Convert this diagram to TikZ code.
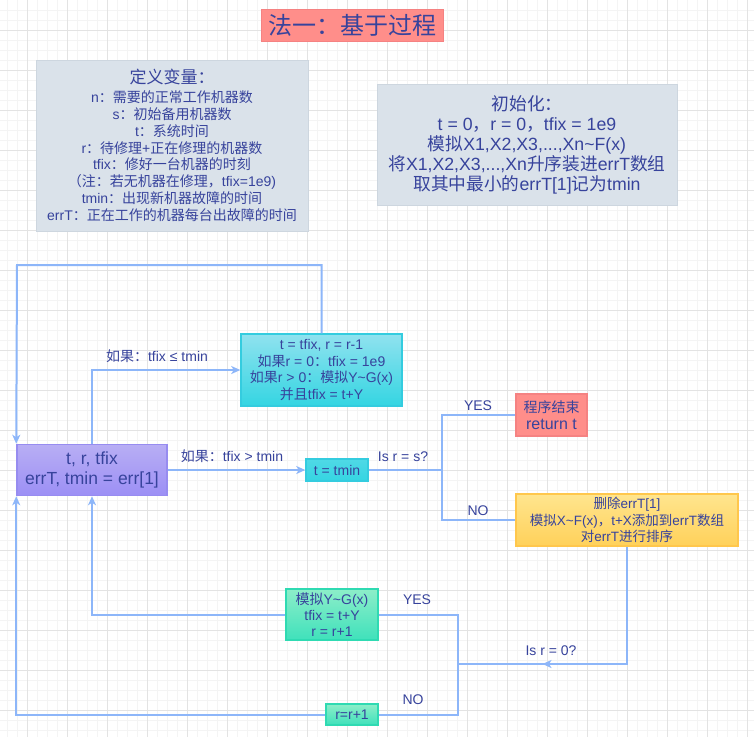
\documentclass[tikz,border=0pt]{standalone}
\usepackage{fontspec}
\setmainfont{Liberation Sans}
\newfontfamily\cjk{Noto Sans CJK SC}
\usetikzlibrary{arrows.meta,calc}

% Switch to the CJK family for Chinese characters and back to Latin afterwards
\XeTeXinterchartokenstate=1
\newXeTeXintercharclass\CJKcls
\newcount\cjkc
\def\cjkrange#1#2{%
  \cjkc=#1
  \loop
    \XeTeXcharclass\cjkc=\CJKcls
    \advance\cjkc by 1
  \ifnum\cjkc<#2 \repeat}
\cjkrange{"3000}{"3040}
\cjkrange{"4E00}{"A000}
\cjkrange{"FF00}{"FFF0}
\XeTeXinterchartoks 0 \CJKcls = {\cjk}
\XeTeXinterchartoks 4095 \CJKcls = {\cjk}
\XeTeXinterchartoks \CJKcls 0 = {\rmfamily}
\XeTeXinterchartoks \CJKcls 4095 = {\rmfamily}

\definecolor{ink}{HTML}{37439C}
\definecolor{edge}{HTML}{8DB6F9}
\definecolor{gridmajor}{HTML}{E3E3E3}
\definecolor{gridminor}{HTML}{F4F4F4}
\definecolor{notefill}{HTML}{DAE2EA}
\definecolor{notebd}{HTML}{CDD6DF}
\definecolor{redfill}{HTML}{FF8E8A}
\definecolor{redbd}{HTML}{F58282}
\definecolor{purptop}{HTML}{B8AEF4}
\definecolor{purpbot}{HTML}{9C8FF5}
\definecolor{purpbd}{HTML}{978CF0}
\definecolor{cyantop}{HTML}{90E2EF}
\definecolor{cyanbot}{HTML}{34D5E2}
\definecolor{cyanbd}{HTML}{34CCDF}
\definecolor{yeltop}{HTML}{FFE58E}
\definecolor{yelbot}{HTML}{FFD15A}
\definecolor{yelbd}{HTML}{FFC74C}
\definecolor{grntop}{HTML}{8DEEC9}
\definecolor{grnbot}{HTML}{3FE1BB}
\definecolor{grnbd}{HTML}{2FDAB2}

\tikzset{
  box/.style={draw, line width=1.5pt, inner sep=0pt, align=center, text=ink,
    font=\fontsize{14}{16.8}\selectfont},
  note/.style={box, draw=notebd, fill=notefill, line width=1pt},
  redbox/.style={box, draw=redbd, fill=redfill},
  purpbox/.style={box, draw=purpbd, top color=purptop, bottom color=purpbot},
  cyanbox/.style={box, draw=cyanbd, top color=cyantop, bottom color=cyanbot},
  yelbox/.style={box, draw=yelbd, top color=yeltop, bottom color=yelbot},
  grnbox/.style={box, draw=grnbd, top color=grntop, bottom color=grnbot},
  flow/.style={draw=edge, line width=2pt},
  arr/.style={-{Stealth[length=9pt,width=8pt,inset=2.5pt]}},
  lbl/.style={text=ink, inner sep=0pt, font=\fontsize{14}{16.8}\selectfont},
}

\begin{document}
\begin{tikzpicture}[x=1pt,y=-1pt]
\useasboundingbox[fill=white] (0,0) rectangle (754,737);

% background grid
\foreach \x in {7,17,...,747} \draw[gridminor, line width=0.8pt] (\x,0) -- (\x,737);
\foreach \y in {10,20,...,730} \draw[gridminor, line width=0.8pt] (0,\y) -- (754,\y);
\foreach \x in {27,67,...,747} \draw[gridmajor, line width=1pt] (\x,0) -- (\x,737);
\foreach \y in {30,70,...,730} \draw[gridmajor, line width=1pt] (0,\y) -- (754,\y);

% heading and notes
\node[redbox, line width=1pt, minimum width=182pt, minimum height=32pt,
  font=\fontsize{24}{28}\selectfont] (title) at (352,25) {法一：基于过程};

\node[note, minimum width=272pt, minimum height=171pt] (vars) at (172,145.5)
  {{\fontsize{17}{19}\selectfont 定义变量：}\\[2pt]
   n：需要的正常工作机器数\\
   s：初始备用机器数\\
   t：系统时间\\
   r：待修理+正在修理的机器数\\
   tfix：修好一台机器的时刻\\
   （注：若无机器在修理，tfix=1e9)\\
   tmin：出现新机器故障的时间\\
   errT：正在工作的机器每台出故障的时间};

\node[note, minimum width=300pt, minimum height=121pt,
  font=\fontsize{17.7}{20}\selectfont] (init) at (527,144.5)
  {初始化：\\
   t = 0，r = 0，tfix = 1e9\\
   模拟X1,X2,X3,...,Xn\textasciitilde F(x)\\
   将X1,X2,X3,...,Xn升序装进errT数组\\
   取其中最小的errT[1]记为tmin};

% process boxes
\node[purpbox, minimum width=150pt, minimum height=51pt,
  font=\fontsize{17.5}{20}\selectfont] (P) at (92,470)
  {t, r, tfix\\ errT, tmin = err[1]};

\node[cyanbox, minimum width=161pt, minimum height=72pt] (C) at (321.5,370)
  {t = tfix, r = r-1\\
   如果r = 0：tfix = 1e9\\
   如果r > 0：模拟Y\textasciitilde G(x)\\
   并且tfix = t+Y};

\node[cyanbox, top color=cyanbot!70!cyantop, minimum width=62pt, minimum height=22pt] (T) at (337,470) {t = tmin};

\node[redbox, minimum width=71pt, minimum height=42pt] (E) at (551.5,415)
  {程序结束\\[0.5pt]{\fontsize{16}{17}\selectfont return t}};

\node[yelbox, minimum width=222pt, minimum height=52pt,
  font=\fontsize{13.5}{16.3}\selectfont] (Y) at (627,520)
  {删除errT[1]\\
   模拟X\textasciitilde F(x)，t+X添加到errT数组\\
   对errT进行排序};

\node[grnbox, minimum width=92pt, minimum height=51pt,
  font=\fontsize{14}{16}\selectfont] (G) at (332,614.5)
  {模拟Y\textasciitilde G(x)\\ tfix = t+Y\\ r = r+1};

\node[grnbox, minimum width=52pt, minimum height=21pt] (R) at (352,714.5) {r=r+1};

% routing points
\coordinate (loopTL) at (17,265);
\coordinate (split) at (442,470);
\coordinate (merge) at (458,664);

% connectors
\draw[flow, arr] (P.north) |- (C.west);
\draw[flow, arr] (C.north) |- (loopTL) -- (P.north west);
\draw[flow, arr] (P.east) -- (T.west);
\draw[flow] (T.east) -- (split) |- (E.west);
\draw[flow] (T.east) -- (split) |- (Y.west);
\draw[flow] (Y.south) |- (merge);
\draw[flow, arr] (Y.south |- merge) -- ($(Y.south |- merge)!0.5!(merge)$);
\draw[flow] (merge) |- (G.east);
\draw[flow] (merge) |- (R.east);
\draw[flow, arr] (G.west) -| (P.south);
\draw[flow, arr] (R.west) -| (P.south west);

% connector labels
\node[lbl] (l1) at (157,356) {如果：tfix ≤ tmin};
\node[lbl] (l2) at (232,456) {如果：tfix > tmin};
\node[lbl] (l3) at (403,457) {Is r = s?};
\node[lbl] (l4) at (478,406) {YES};
\node[lbl] (l5) at (478,511) {NO};
\node[lbl] (l6) at (417,600) {YES};
\node[lbl] (l7) at (413,700) {NO};
\node[lbl] (l8) at (551,651) {Is r = 0?};
\end{tikzpicture}
\end{document}
